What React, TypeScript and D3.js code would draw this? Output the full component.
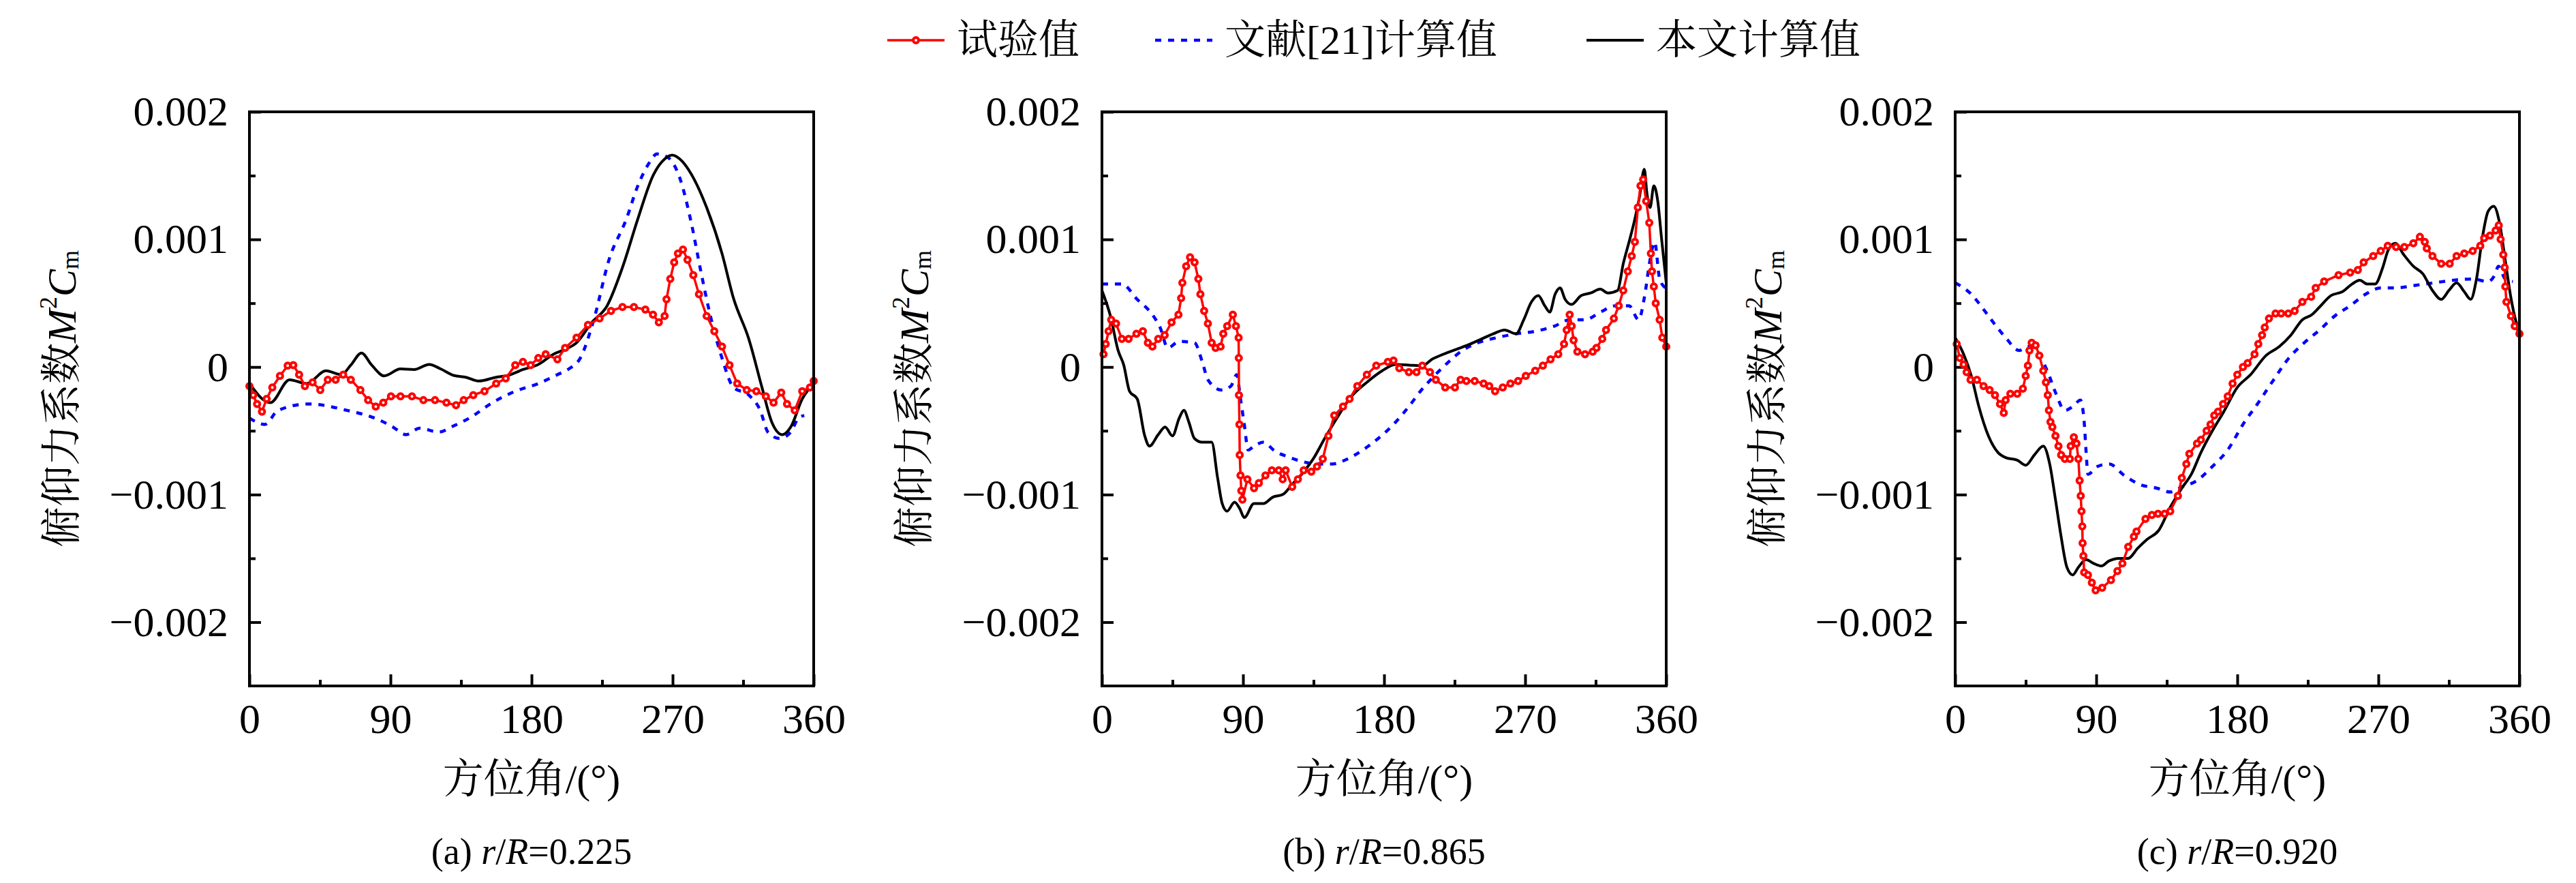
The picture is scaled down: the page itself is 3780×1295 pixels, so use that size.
import { useRef, useEffect } from "react";
import * as d3 from "d3";

type Pt = [number, number];

const ANGLE_TICKS = [0, 90, 180, 270, 360];
const ANGLE_MINOR = [45, 135, 225, 315];
const VALUE_TICKS = [0.002, 0.001, 0, -0.001, -0.002];
const VALUE_MINOR = [0.0015, 0.0005, -0.0005, -0.0015];
const VALUE_LABELS = ["0.002", "0.001", "0", "\u22120.001", "\u22120.002"];
const SERIES_NAMES = ["试验值", "文献[21]计算值", "本文计算值"];
const PANEL_TAGS = ["(a)", "(b)", "(c)"];
const PANEL_RADII = ["0.225", "0.865", "0.920"];

// (a) r/R = 0.225
const expA: Pt[] = [
  [0, -0.00015], [2.4, -0.00022], [4.9, -0.00029], [8, -0.00035], [11, -0.00025],
  [14.6, -0.00016], [19.5, -0.00007], [24.4, 0.00001], [28, 0.000015], [31.7, -0.00006],
  [35.4, -0.00015], [40.3, -0.00012], [45.2, -0.00018], [50, -0.0001], [55, -0.0001],
  [59.8, -0.00006], [64.7, -0.0001], [70.8, -0.00018], [75.7, -0.00026], [80.6, -0.00031],
  [85.4, -0.00028], [90.3, -0.00023], [96.4, -0.00023], [103.7, -0.00023], [111, -0.00026],
  [118.4, -0.00026], [125.7, -0.00028], [131.8, -0.0003], [136.7, -0.00026], [142.8, -0.00022],
  [150, -0.00019], [157.4, -0.00013], [163.5, -0.00009], [169.6, 0.000015], [174.5, 0.00004],
  [179.4, 0.000015], [184.3, 0.00007], [189, 0.0001], [196.5, 0.00006], [201.4, 0.00015],
  [208.7, 0.00023], [216, 0.00033], [223.4, 0.00038], [230.7, 0.00044], [238, 0.00047],
  [245.3, 0.00047], [252.6, 0.00045], [257.5, 0.00041], [261.2, 0.00035], [264.9, 0.0004],
  [266.1, 0.00053], [268.5, 0.00069], [271, 0.00082], [273.4, 0.00089], [276.6, 0.00092],
  [279.5, 0.00084], [283.2, 0.00072], [286.8, 0.00057], [291.7, 0.0004], [296.6, 0.00028],
  [301.5, 0.00016], [306.3, 0.000015], [311.2, -0.00013], [317.3, -0.00018], [323.4, -0.00019],
  [329.5, -0.00023], [334.4, -0.00028], [339.3, -0.0002], [343, -0.00029], [347.9, -0.00034],
  [352.7, -0.00019], [357.6, -0.00016], [360, -0.00011],
];
const refA: Pt[] = [
  [0, -0.0004], [9.8, -0.00045], [18.3, -0.00034], [37.8, -0.00029], [62.3, -0.00034],
  [81.8, -0.00041], [91.5, -0.00047], [100, -0.00053], [108.6, -0.00048], [120.8, -0.00051],
  [130.6, -0.00046], [140.4, -0.0004], [155, -0.00028], [169.6, -0.00019], [184.3, -0.00013],
  [196.5, -0.00006], [203.8, -0.000015], [211.1, 0.00007], [219.7, 0.00037], [229.4, 0.00084],
  [240.5, 0.00116], [247.8, 0.00142], [255.1, 0.0016], [260, 0.00167], [267.3, 0.00164],
  [274.6, 0.00148], [281.9, 0.00113], [288, 0.00075], [294.1, 0.0004], [301.5, 0.00007],
  [308.8, -0.00016], [318.6, -0.00022], [325.9, -0.00034], [330.8, -0.00051], [338.1, -0.00056],
  [345.4, -0.00051], [350.3, -0.0004], [354, -0.00038],
];
const calcA: Pt[] = [
  [0, -0.00013], [13.4, -0.00028], [25.6, -0.0001], [36.6, -0.00013], [48.8, -0.00003],
  [58.6, -0.00006], [64.7, 0.000015], [71.5, 0.00011], [78, 0.000015], [86, -0.00007],
  [96.4, -0.000015], [105, -0.00002], [114.7, 0.00002], [122, -0.000015], [130.6, -0.000067],
  [138, -0.00008], [146.5, -0.00011], [157.4, -0.00008], [164.8, -0.000067], [174.5, -0.00002],
  [184.3, 0.00002], [194, 0.0001], [201.4, 0.000138], [208.7, 0.00019], [218.5, 0.00035],
  [228.2, 0.00048], [238, 0.00078], [247.8, 0.00116], [257.5, 0.0015], [264.9, 0.00163],
  [269.7, 0.00166], [274.6, 0.00163], [282, 0.00151], [291.7, 0.00125], [301.5, 0.00089],
  [308.8, 0.00054], [318.6, 0.00022], [327, -0.00016], [333.2, -0.00043], [340, -0.00053],
  [345.4, -0.00047], [352.7, -0.00025], [360, -0.00013],
];

// (b) r/R = 0.865
const expB: Pt[] = [
  [1, 0.0001], [2.4, 0.00018], [4.2, 0.00028], [5.9, 0.00037], [9, 0.00034],
  [12.7, 0.00022], [17, 0.00022], [22, 0.00026], [26.1, 0.00028], [29.3, 0.00019],
  [32.2, 0.00016], [35.9, 0.00022], [40, 0.00025], [44.4, 0.00035], [48.8, 0.00041],
  [50.5, 0.00054], [51.3, 0.00066], [53.7, 0.00079], [56.2, 0.00086], [59.1, 0.00082],
  [61.5, 0.00069], [62.8, 0.00057], [65.2, 0.00044], [67.6, 0.00034], [70, 0.00019],
  [72.5, 0.00015], [75.7, 0.00016], [77.4, 0.00026], [79.9, 0.00032], [83.5, 0.00041],
  [85.5, 0.00032], [87.2, 0.00023], [87.3, 0.00007], [87.4, -0.00022], [87.7, -0.00045],
  [87.9, -0.00069], [88.4, -0.00085], [88.9, -0.00097], [89.6, -0.00104], [92.8, -0.00088],
  [97, -0.00095], [100.1, -0.00091], [104.3, -0.00085], [108.4, -0.00081], [112.8, -0.00081],
  [115.3, -0.00088], [117.2, -0.00081], [121.4, -0.00094], [125, -0.00088], [128.7, -0.00081],
  [133.6, -0.00082], [137.2, -0.00078], [140.9, -0.00072], [144.5, -0.00054], [148.2, -0.00038],
  [153.8, -0.00031], [158, -0.00025], [162.9, -0.00015], [169, -0.00006], [175, 0.00001],
  [182.4, 0.00004], [186, 0.00005], [189.7, -0.00001], [195.8, -0.00004], [200.7, -0.00004],
  [204.4, 0.00001], [209.3, -0.00004], [213, -0.0001], [219, -0.00016], [225.2, -0.00016],
  [228.8, -0.0001], [232.5, -0.00011], [237.8, -0.00011], [243.5, -0.00013], [247.1, -0.00015],
  [250.8, -0.00019], [255.7, -0.00016], [260.6, -0.00013], [265.5, -0.00011], [270.4, -0.00007],
  [276.4, -0.00003], [281.3, 0.00001], [286.2, 0.00006], [291.1, 0.0001], [294.8, 0.00018],
  [296.5, 0.00029], [298.4, 0.00041], [299.7, 0.00032], [300.9, 0.00021], [303.3, 0.00012],
  [308.2, 0.0001], [313.1, 0.00012], [315.5, 0.00015], [319.2, 0.00022], [321.6, 0.00029],
  [326.6, 0.00038], [329.7, 0.00048], [332.6, 0.0006], [335.5, 0.00075], [338, 0.00087],
  [340, 0.00098], [341.9, 0.00125], [343.6, 0.00142], [345.3, 0.00147], [347.2, 0.0013],
  [349.2, 0.00113], [350.2, 0.00089], [350.9, 0.00075], [352.1, 0.00063], [353.3, 0.0005],
  [355.8, 0.00037], [357.5, 0.00023], [360, 0.00016],
];
const refB: Pt[] = [
  [0, 0.00065], [12.7, 0.00065], [22.5, 0.00053], [32.2, 0.00041], [37.1, 0.00031],
  [42, 0.00015], [49.3, 0.0002], [59, 0.00019], [64, 0.00004], [67.6, -0.0001],
  [76.2, -0.00018], [82.3, -0.00015], [86, -0.00006], [88.4, -0.00025], [90.8, -0.00045],
  [93.3, -0.00065], [97, -0.00062], [103, -0.00059], [110.4, -0.00066], [117.7, -0.0007],
  [127.5, -0.00074], [137.2, -0.00076], [147, -0.00076], [156.8, -0.00072], [166.5, -0.00065],
  [176.3, -0.00056], [186, -0.00045], [195.8, -0.00031], [203.2, -0.00019], [210.5, -0.00009],
  [220.3, 0.00003], [230, 0.00013], [239.8, 0.00019], [252, 0.00023], [264.2, 0.00026],
  [276.4, 0.00028], [288.6, 0.00032], [298.4, 0.00037], [308.2, 0.00037], [318, 0.00043],
  [327.7, 0.00048], [336.3, 0.00048], [342.4, 0.00037], [346, 0.00054], [349.7, 0.00084],
  [352.6, 0.00098], [355.8, 0.00069], [359.5, 0.00062],
];
const calcB: Pt[] = [
  [0, 0.0006], [5.4, 0.0004], [10.3, 0.00013], [13.9, 0.000015], [17.6, -0.00019],
  [22.5, -0.00025], [27.3, -0.00054], [30.3, -0.00062], [35.9, -0.00053], [40.3, -0.00047],
  [45, -0.00054], [49.3, -0.0004], [52.3, -0.00034], [55.4, -0.00043], [59, -0.00056],
  [64, -0.00059], [70, -0.00059], [73.8, -0.00087], [76.7, -0.00107], [79.8, -0.00113],
  [84.6, -0.00106], [87.9, -0.00111], [90.8, -0.00118], [97, -0.00107], [103, -0.00107],
  [109, -0.00102], [115.3, -0.001], [121.4, -0.00092], [127.5, -0.00084], [134.8, -0.00072],
  [142.1, -0.00056], [149.4, -0.00041], [159.2, -0.00023], [169, -0.00012], [178.8, -0.00003],
  [187.3, 0.00002], [195.8, 0.000015], [204.4, 0.00001], [210.5, 0.00006], [217.8, 0.0001],
  [226.4, 0.00014], [234.9, 0.00018], [242.2, 0.00022], [249.6, 0.00026], [256.9, 0.00029],
  [264.2, 0.00026], [269.1, 0.00037], [274, 0.00051], [278.4, 0.00056], [282.5, 0.00048],
  [285.7, 0.00043], [289.1, 0.00057], [292.3, 0.00062], [295.5, 0.00053], [299.6, 0.00049],
  [305.7, 0.00056], [311.8, 0.00058], [317.9, 0.00061], [322.8, 0.00058], [329, 0.0006],
  [332.6, 0.00081], [336.3, 0.00098], [340, 0.00116], [342.9, 0.00133], [346, 0.00155],
  [347.7, 0.00136], [349.7, 0.00125], [352.1, 0.00142], [354.6, 0.0013], [357, 0.00101],
  [360, 0.00066],
];

// (c) r/R = 0.920
const expC: Pt[] = [
  [1, 0.00018], [2.9, 0.00007], [5.4, 0.00002], [7.3, -0.00004], [9.8, -0.0001],
  [13.9, -0.0001], [18.1, -0.00015], [22, -0.00018], [25.4, -0.00022], [28.6, -0.00029],
  [31, -0.00036], [32.2, -0.00026], [35.2, -0.00021], [39.6, -0.00021], [43.2, -0.00017],
  [45, -0.00007], [46.4, 0.00001], [47.4, 0.00013], [48.8, 0.00019], [51.3, 0.00017],
  [53.7, 0.00009], [56.2, -0.00003], [57.9, -0.00012], [59.1, -0.00022], [59.8, -0.00034],
  [60.8, -0.00043], [62, -0.00047], [64, -0.00054], [65.9, -0.00062], [67.6, -0.00069],
  [70, -0.00072], [73.2, -0.00072], [73.7, -0.00062], [75.7, -0.00055], [77.4, -0.0006],
  [78.6, -0.00072], [79.4, -0.00089], [80.1, -0.00101], [80.6, -0.00113], [81.1, -0.00125],
  [81.3, -0.00138], [81.8, -0.00148], [82.3, -0.00161], [84.7, -0.00163], [87.2, -0.00169],
  [89.6, -0.00175], [93.8, -0.00173], [99.4, -0.00167], [103.5, -0.0016], [106.7, -0.00154],
  [110.4, -0.00141], [114, -0.00133], [115.7, -0.00129], [121.4, -0.00119], [125.5, -0.00116],
  [129.4, -0.00115], [133.6, -0.00115], [137.2, -0.00113], [142.1, -0.00101], [144.6, -0.00087],
  [147.5, -0.00076], [149.4, -0.00068], [154.3, -0.0006], [156.8, -0.00057], [160.4, -0.0005],
  [162.9, -0.00045], [165.3, -0.00038], [167.7, -0.00035], [170.9, -0.00029], [173.9, -0.00023],
  [177, -0.00013], [180, -0.00006], [183.6, 0], [186.6, 0.00003], [191, 0.0001],
  [193.4, 0.00018], [195.8, 0.00025], [197.5, 0.00031], [200.2, 0.00038], [204.4, 0.00042],
  [208, 0.00042], [212.5, 0.00042], [216.6, 0.00044], [221.5, 0.00051], [227.1, 0.00055],
  [230, 0.00062], [235.4, 0.00067], [244.6, 0.00072], [252, 0.00074], [256.9, 0.00076],
  [260.6, 0.00082], [266.7, 0.00087], [271.5, 0.00091], [276, 0.00095], [281.3, 0.00094],
  [286.6, 0.00094], [292.3, 0.00097], [296.5, 0.00102], [299.6, 0.00098], [300.9, 0.00093],
  [304.5, 0.00087], [310.1, 0.00081], [315.5, 0.00081], [319.9, 0.00087], [324.8, 0.00089],
  [330.2, 0.00091], [335, 0.00095], [337.5, 0.00101], [341.2, 0.00103], [344.8, 0.00107],
  [346.8, 0.00111], [348, 0.001], [349.7, 0.00088], [350.6, 0.00078], [351, 0.00063],
  [351.7, 0.00051], [354.6, 0.0004], [357, 0.00032], [360, 0.00026],
];
const refC: Pt[] = [
  [0, 0.00066], [10.3, 0.00057], [18.8, 0.00044], [24.9, 0.00034], [32.2, 0.00023],
  [40.8, 0.00013], [46.9, 0.00016], [53, 0.0001], [59.1, -0.00004], [64, -0.0002],
  [70, -0.00034], [75, -0.00031], [79.9, -0.00026], [82.3, -0.00043], [83.5, -0.00066],
  [84.7, -0.00084], [90.8, -0.00078], [98.2, -0.00076], [107.9, -0.00085], [117.7, -0.00092],
  [128.7, -0.00095], [137.2, -0.00098], [144.6, -0.00094], [154.3, -0.00089], [164.1, -0.00078],
  [173.9, -0.00065], [183.6, -0.00045], [193.4, -0.00028], [203.2, -0.0001], [212.9, 0.00007],
  [222.7, 0.00019], [232.5, 0.00029], [242.2, 0.0004], [252, 0.00048], [261.8, 0.00057],
  [271.5, 0.00062], [281.3, 0.00062], [293.5, 0.00064], [305.7, 0.00066], [317.9, 0.00068],
  [330, 0.00069], [339.8, 0.00067], [344.2, 0.00072], [346.6, 0.00079], [350.9, 0.00069],
  [355.8, 0.00067],
];
const calcC: Pt[] = [
  [0, 0.00023], [5.4, 0.0001], [10.3, -0.00007], [15.1, -0.00031], [21.2, -0.00054],
  [27.3, -0.00067], [32.2, -0.00071], [39.6, -0.00073], [45, -0.00077], [50.5, -0.00069],
  [56.2, -0.00062], [60.3, -0.00076], [64, -0.00104], [67.6, -0.00133], [71.3, -0.00157],
  [75, -0.00163], [78.6, -0.00157], [83.5, -0.00151], [88.4, -0.00154], [93.3, -0.00156],
  [98.2, -0.00152], [104.3, -0.0015], [110.4, -0.0015], [116.5, -0.00142], [122.6, -0.00135],
  [129.9, -0.00128], [137.2, -0.0011], [144.6, -0.00095], [150.7, -0.00084], [156.8, -0.00067],
  [164.1, -0.0005], [171.4, -0.00035], [180, -0.00016], [188.5, -0.00006], [198.3, 0.00009],
  [206.8, 0.00016], [214.2, 0.00025], [221.5, 0.00037], [227.6, 0.00041], [232.5, 0.00047],
  [239.8, 0.00056], [247.1, 0.00059], [253.2, 0.00065], [258.1, 0.00068], [263, 0.00065],
  [267.9, 0.00065], [272.8, 0.00078], [276.4, 0.00092], [280.8, 0.00097], [286.2, 0.00088],
  [292.3, 0.00079], [298.4, 0.00073], [304.5, 0.0006], [310.1, 0.00053], [315, 0.0006],
  [319.9, 0.00066], [324.8, 0.00059], [328.9, 0.00053], [332.6, 0.00069], [336.3, 0.00101],
  [340, 0.00122], [343.6, 0.00126], [347.3, 0.00113], [350.9, 0.00084], [354.6, 0.00054],
  [357.5, 0.00037], [360, 0.00028],
];

const PANELS = [
  { exp: expA, ref: refA, calc: calcA },
  { exp: expB, ref: refB, calc: calcB },
  { exp: expC, ref: refC, calc: calcC },
];

const W = 3780;
const H = 1295;
const PANEL_LEFT = [366, 1617, 2869];
const PLOT_W = 828;
const PLOT_TOP = 164;
const PLOT_BOTTOM = 1006;

const FONT = "'Liberation Serif', 'Times New Roman', 'Noto Serif CJK SC', 'Noto Sans CJK SC', serif";
const RED = "#ff0000";
const BLUE = "#0000ff";
const DASH = "9,10";

export default function App() {
  const svgRef = useRef<SVGSVGElement>(null);

  useEffect(() => {
    if (!svgRef.current) return;
    const svg = d3.select(svgRef.current);
    svg.selectAll("*").remove();

    svg.append("rect").attr("width", W).attr("height", H).attr("fill", "#fff");

    const y = d3
      .scaleLinear()
      .domain([-0.0025, 0.002])
      .range([PLOT_BOTTOM, PLOT_TOP]);

    PANELS.forEach((p, i) => {
      const left = PANEL_LEFT[i];
      const x = d3.scaleLinear().domain([0, 360]).range([left, left + PLOT_W]);
      const g = svg.append("g");

      // inward ticks, bottom and left only
      const xMajor = g
        .append("g")
        .attr("transform", `translate(0,${PLOT_BOTTOM})`)
        .call(
          d3
            .axisBottom(x)
            .tickValues(ANGLE_TICKS)
            .tickSizeInner(-17)
            .tickSizeOuter(0)
            .tickPadding(25)
            .tickFormat((d) => String(d)),
        );
      xMajor.selectAll("text").attr("fill", "#000").style("font-size", "62px");

      g.append("g")
        .attr("transform", `translate(0,${PLOT_BOTTOM})`)
        .call(
          d3
            .axisBottom(x)
            .tickValues(ANGLE_MINOR)
            .tickSizeInner(-9)
            .tickSizeOuter(0)
            .tickFormat(() => ""),
        );

      const yMajor = g
        .append("g")
        .attr("transform", `translate(${left},0)`)
        .call(
          d3
            .axisLeft(y)
            .tickValues(VALUE_TICKS)
            .tickSizeInner(-17)
            .tickSizeOuter(0)
            .tickPadding(31)
            .tickFormat((_, k) => VALUE_LABELS[k]),
        );
      yMajor.selectAll("text").attr("fill", "#000").style("font-size", "62px");

      g.append("g")
        .attr("transform", `translate(${left},0)`)
        .call(
          d3
            .axisLeft(y)
            .tickValues(VALUE_MINOR)
            .tickSizeInner(-9)
            .tickSizeOuter(0)
            .tickFormat(() => ""),
        );

      g.selectAll(".domain").remove();
      g.selectAll(".tick line").attr("stroke", "#000").attr("stroke-width", 4);
      g.selectAll(".tick text").style("font-family", FONT);

      // data
      const smooth = d3
        .line<Pt>()
        .x((d) => x(d[0]))
        .y((d) => y(d[1]))
        .curve(d3.curveMonotoneX);
      const straight = d3
        .line<Pt>()
        .x((d) => x(d[0]))
        .y((d) => y(d[1]));

      g.append("path")
        .datum(p.ref)
        .attr("d", smooth)
        .attr("fill", "none")
        .attr("stroke", BLUE)
        .attr("stroke-width", 4.5)
        .attr("stroke-dasharray", DASH);

      g.append("path")
        .datum(p.calc)
        .attr("d", smooth)
        .attr("fill", "none")
        .attr("stroke", "#000")
        .attr("stroke-width", 4);

      g.append("path")
        .datum(p.exp)
        .attr("d", straight)
        .attr("fill", "none")
        .attr("stroke", RED)
        .attr("stroke-width", 3.5);

      g.selectAll(".marker")
        .data(p.exp)
        .join("circle")
        .attr("cx", (d) => x(d[0]))
        .attr("cy", (d) => y(d[1]))
        .attr("r", 4)
        .attr("fill", "#fff")
        .attr("stroke", RED)
        .attr("stroke-width", 4);

      // frame
      g.append("rect")
        .attr("x", left)
        .attr("y", PLOT_TOP)
        .attr("width", PLOT_W)
        .attr("height", PLOT_BOTTOM - PLOT_TOP)
        .attr("fill", "none")
        .attr("stroke", "#000")
        .attr("stroke-width", 4);

      // axis titles
      const cx = left + PLOT_W / 2;
      g.append("text")
        .attr("x", cx)
        .attr("y", 1143)
        .attr("text-anchor", "middle")
        .attr("dominant-baseline", "central")
        .style("font-family", FONT)
        .style("font-size", "60px")
        .text("方位角/(°)");

      const yl = g
        .append("text")
        .attr(
          "transform",
          `translate(${left - 275},${(PLOT_TOP + PLOT_BOTTOM) / 2}) rotate(-90)`,
        )
        .attr("text-anchor", "middle")
        .attr("dominant-baseline", "central")
        .style("font-family", FONT)
        .style("font-size", "60px");
      yl.append("tspan").text("俯仰力系数");
      yl.append("tspan").style("font-style", "italic").text("M");
      yl.append("tspan").attr("dy", -20).style("font-size", "36px").text("2");
      yl.append("tspan").attr("dy", 20).style("font-style", "italic").text("C");
      yl.append("tspan").attr("dy", 12).style("font-size", "36px").text("m");

      const sub = g
        .append("text")
        .attr("x", cx)
        .attr("y", 1267)
        .attr("text-anchor", "middle")
        .style("font-family", FONT)
        .style("font-size", "54px");
      sub.append("tspan").text(`${PANEL_TAGS[i]} `);
      sub.append("tspan").style("font-style", "italic").text("r");
      sub.append("tspan").text("/");
      sub.append("tspan").style("font-style", "italic").text("R");
      sub.append("tspan").text(`=${PANEL_RADII[i]}`);
    });

    // legend
    const legendY = 59;
    const legendX = [1302, 1695, 2328];
    const lg = svg.append("g");
    legendX.forEach((lx, k) => {
      const seg = lg
        .append("line")
        .attr("x1", lx)
        .attr("x2", lx + 84)
        .attr("y1", legendY)
        .attr("y2", legendY)
        .attr("stroke", [RED, BLUE, "#000"][k])
        .attr("stroke-width", [3.5, 4.5, 4][k]);
      if (k === 1) seg.attr("stroke-dasharray", DASH);
      if (k === 0) {
        lg.append("circle")
          .attr("cx", lx + 42)
          .attr("cy", legendY)
          .attr("r", 4)
          .attr("fill", "#fff")
          .attr("stroke", RED)
          .attr("stroke-width", 4);
      }
      lg.append("text")
        .attr("x", lx + 102)
        .attr("y", legendY)
        .attr("dominant-baseline", "central")
        .style("font-family", FONT)
        .style("font-size", "60px")
        .text(SERIES_NAMES[k]);
    });
  }, []);

  return (
    <svg
      ref={svgRef}
      width={W}
      height={H}
      style={{ position: "absolute", left: 0, top: 0 }}
    />
  );
}
